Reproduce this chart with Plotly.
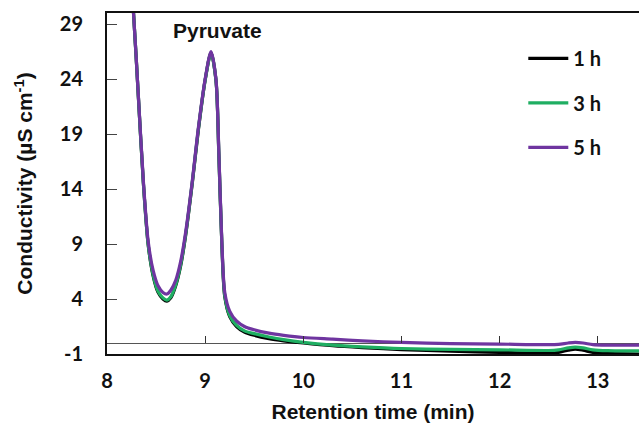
import plotly.graph_objects as go

# Retention time (min)
time_min = [8.20, 8.27, 8.32, 8.37, 8.42, 8.47, 8.52, 8.57, 8.61, 8.65, 8.70, 8.75, 8.80,
            8.87, 8.93, 9.00, 9.06, 9.11, 9.14, 9.17, 9.20, 9.25, 9.32, 9.40, 9.50, 9.65,
            9.80, 10.0, 10.3, 10.6, 11.0, 11.5, 12.0, 12.5, 12.6, 12.7, 12.77, 12.85, 12.95,
            13.1, 13.42]

# Conductivity (uS/cm)
cond_1h = [38.0, 30.0, 22.3, 14.6, 8.9, 6.1, 4.6, 4.0, 3.8, 4.1, 5.2, 7.0, 9.7,
           14.6, 19.3, 23.9, 26.4, 23.9, 17.0, 9.0, 4.2, 2.4, 1.5, 1.0, 0.7, 0.4,
           0.2, 0.0, -0.25, -0.42, -0.6, -0.75, -0.85, -0.92, -0.85, -0.65, -0.55, -0.65, -0.85,
           -0.95, -1.0]
cond_3h = [38.0, 30.0, 22.3, 14.6, 8.9, 6.2, 4.7, 4.1, 3.9, 4.2, 5.3, 7.1, 9.8,
           14.7, 19.4, 23.9, 26.4, 23.9, 17.0, 9.0, 4.3, 2.5, 1.6, 1.1, 0.85, 0.55,
           0.3, 0.05, -0.2, -0.35, -0.5, -0.58, -0.62, -0.68, -0.62, -0.45, -0.38, -0.45, -0.62,
           -0.7, -0.72]
cond_5h = [38.0, 30.0, 22.4, 14.8, 9.2, 6.6, 5.2, 4.6, 4.45, 4.8, 5.7, 7.4, 10.0,
           14.8, 19.5, 24.0, 26.5, 24.0, 17.2, 9.2, 4.6, 2.9, 2.0, 1.5, 1.2, 0.9,
           0.7, 0.5, 0.35, 0.2, 0.05, -0.05, -0.1, -0.15, -0.12, 0.0, 0.05, 0.0, -0.15,
           -0.2, -0.2]

series_names = ["1 h", "3 h", "5 h"]
series_colors = ["#000000", "#1fae62", "#6f35a0"]
series_values = [cond_1h, cond_3h, cond_5h]

x_ticks = [8, 9, 10, 11, 12, 13]
y_ticks = [-1, 4, 9, 14, 19, 24, 29]
x_range = [8, 13.42]
y_range = [-1, 30]

tick_font = dict(family="Lato", size=20, color="#111111", weight="bold")
title_font = dict(family="Liberation Sans, Arial", size=21, color="#111111", weight="bold")

fig = go.Figure()
for i, (name, col, vals) in enumerate(zip(series_names, series_colors, series_values)):
    fig.add_trace(go.Scatter(
        x=time_min, y=vals, mode="lines", name=name,
        line=dict(color=col, width=3.2, shape="spline", smoothing=0.8),
        legendgroup=f"g{i}", hoverinfo="skip",
    ))

# helper trace for the tick marks on the zero line
fig.add_trace(go.Scatter(x=[None], y=[None], xaxis="x2", showlegend=False, hoverinfo="skip"))

fig.update_layout(
    width=639, height=426,
    margin=dict(l=107, r=0, t=13, b=72, autoexpand=False),
    paper_bgcolor="white", plot_bgcolor="white",
    showlegend=True,
    legend=dict(
        x=0.7825, y=0.924, xanchor="left", yanchor="top",
        bgcolor="rgba(0,0,0,0)", font=tick_font,
        tracegroupgap=15.5, itemwidth=40,
    ),
    xaxis=dict(
        range=x_range, tickvals=x_ticks, ticktext=[str(v) for v in x_ticks],
        showgrid=False, zeroline=False, automargin=False,
        showline=True, linecolor="#111111", linewidth=2, mirror=True,
        ticks="", ticklabelstandoff=8, tickfont=tick_font,
        title=dict(text="Retention time (min)", font=title_font, standoff=13),
    ),
    xaxis2=dict(
        range=x_range, overlaying="x", anchor="free", position=1 / 31, side="top",
        tickvals=x_ticks[1:], ticks="outside", ticklen=7, tickcolor="#333333", tickwidth=1.3,
        showticklabels=False, showgrid=False, zeroline=False, showline=False, automargin=False,
    ),
    yaxis=dict(
        range=y_range, tickvals=y_ticks, ticktext=[str(v) for v in y_ticks],
        showgrid=False, automargin=False,
        zeroline=True, zerolinecolor="#555555", zerolinewidth=1.3,
        showline=True, linecolor="#111111", linewidth=2, mirror=False,
        ticks="inside", ticklen=10, tickcolor="#444444", tickwidth=1.2,
        ticklabelstandoff=18, tickfont=tick_font,
        title=dict(text="Conductivity (µS cm<sup>-1</sup>)", font=title_font, standoff=21),
    ),
    annotations=[dict(
        text="Pyruvate", x=9.13, y=30, xref="x", yref="y", xanchor="center", yanchor="top",
        yshift=-4, showarrow=False,
        font=dict(family="Liberation Sans, Arial", size=21, color="#111111", weight="bold"),
    )],
)

fig.write_html(
    "out.html",
    config={"displayModeBar": False},
    post_script="document.body.style.margin='0';document.body.style.overflow='hidden';",
)
